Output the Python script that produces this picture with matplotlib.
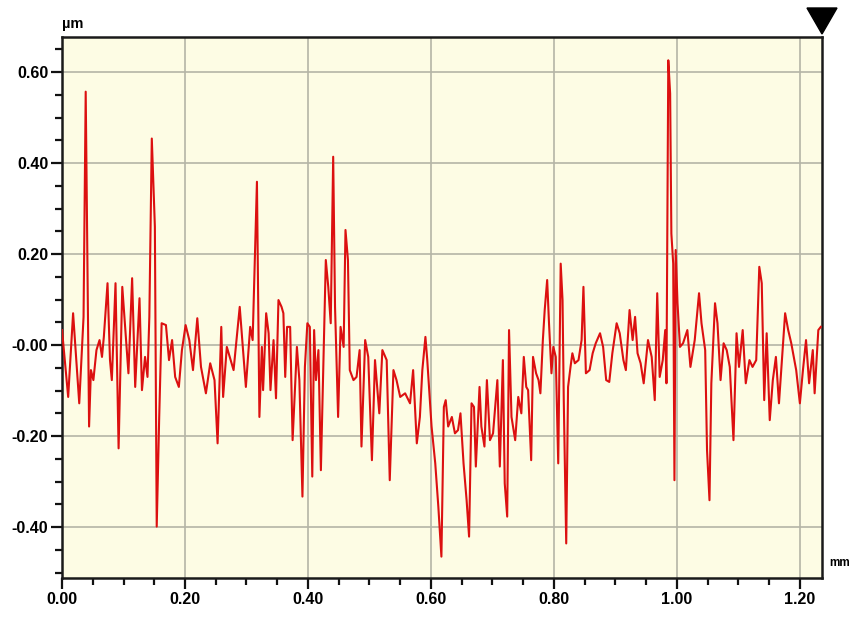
import matplotlib
matplotlib.use('Agg')
import matplotlib.pyplot as plt
from matplotlib.patches import Polygon
import numpy as np

# profile data (x in mm, height in um)
x_mm = [0.000, 0.010, 0.018, 0.028, 0.035, 0.0385, 0.044, 0.047, 0.051, 0.056,
        0.061, 0.065, 0.068, 0.074, 0.078, 0.081, 0.087, 0.092, 0.098, 0.108,
        0.114, 0.119, 0.126, 0.130, 0.135, 0.139, 0.142, 0.146, 0.151, 0.154,
        0.158, 0.162, 0.169, 0.174, 0.179, 0.184, 0.190, 0.195, 0.201, 0.207,
        0.213, 0.220, 0.226, 0.234, 0.241, 0.248, 0.253, 0.259, 0.262, 0.268,
        0.279, 0.289, 0.299, 0.306, 0.310, 0.313, 0.317, 0.321,
        0.325, 0.327, 0.332, 0.336, 0.339, 0.344, 0.348, 0.352, 0.357, 0.360,
        0.363, 0.366, 0.371, 0.375, 0.382, 0.386, 0.391, 0.395, 0.399, 0.403,
        0.407, 0.410, 0.413, 0.417, 0.421, 0.425, 0.429, 0.433, 0.437, 0.441,
        0.444, 0.449, 0.453, 0.458, 0.461, 0.465, 0.468, 0.474, 0.479, 0.484,
        0.487, 0.493, 0.498, 0.504, 0.509, 0.516, 0.521, 0.528, 0.533, 0.539,
        0.544, 0.550, 0.558, 0.566, 0.571, 0.577, 0.582, 0.586, 0.591, 0.594,
        0.601, 0.607, 0.612,
        0.617, 0.621, 0.624, 0.628, 0.634, 0.639, 0.644, 0.648, 0.653, 0.658,
        0.662, 0.666, 0.670, 0.673, 0.679, 0.682, 0.687, 0.691, 0.696, 0.701,
        0.708, 0.712, 0.717, 0.720, 0.724, 0.727, 0.731, 0.737, 0.742, 0.747,
        0.751, 0.755, 0.758, 0.763, 0.766, 0.771, 0.775, 0.778, 0.782, 0.785,
        0.789, 0.792, 0.796, 0.799, 0.803, 0.807, 0.811, 0.814, 0.816, 0.820,
        0.823, 0.827, 0.830, 0.834, 0.840, 0.845, 0.848, 0.852, 0.858, 0.863,
        0.868, 0.875, 0.880, 0.885, 0.890, 0.895, 0.902, 0.907,
        0.913, 0.917, 0.923, 0.928, 0.932, 0.936, 0.941, 0.946, 0.953, 0.959,
        0.964, 0.968, 0.972, 0.977, 0.981, 0.983, 0.986, 0.989, 0.991, 0.994,
        0.996, 0.998, 1.001, 1.005, 1.010, 1.017, 1.022, 1.029, 1.036, 1.040,
        1.046, 1.049, 1.053, 1.056, 1.062, 1.066, 1.071, 1.076, 1.081, 1.086,
        1.092, 1.097, 1.101, 1.107, 1.112, 1.118, 1.123, 1.129, 1.134, 1.138,
        1.142, 1.146, 1.151, 1.156, 1.161, 1.166, 1.172, 1.176, 1.181, 1.186,
        1.194, 1.200, 1.205, 1.210, 1.215, 1.221, 1.224, 1.230, 1.234]

h_um = [0.033, -0.114, 0.070, -0.128, 0.062, 0.557, -0.179, -0.055, -0.077, -0.011,
        0.011, -0.026, 0.018, 0.136, -0.033, -0.077, 0.136, -0.227, 0.128, -0.062,
        0.147, -0.092, 0.103, -0.099, -0.026, -0.070, 0.062, 0.454, 0.260, -0.399,
        -0.161, 0.048, 0.044, -0.033, 0.011, -0.070, -0.092, -0.011, 0.044, 0.011,
        -0.055, 0.059, -0.048, -0.106, -0.040, -0.077, -0.216, 0.040, -0.114, -0.004,
        -0.055, 0.084, -0.092, 0.040, 0.011, 0.158, 0.359, -0.158,
        -0.004, -0.099, 0.070, 0.026, -0.099, 0.011, -0.117, 0.099, 0.084, 0.070,
        -0.070, 0.040, 0.040, -0.209, -0.004, -0.077, -0.333, -0.048, 0.048, 0.040,
        -0.289, 0.033, -0.077, -0.011, -0.275, -0.048, 0.187, 0.128, 0.048, 0.414,
        0.084, -0.158, 0.040, -0.004, 0.253, 0.187, -0.055, -0.077, -0.070, -0.011,
        -0.223, 0.011, -0.026, -0.253, -0.033, -0.150, -0.011, -0.033, -0.297, -0.055,
        -0.077, -0.114, -0.106, -0.128, -0.055, -0.216, -0.158, -0.055, 0.018, -0.033,
        -0.179, -0.260, -0.355,
        -0.465, -0.136, -0.121, -0.179, -0.158, -0.194, -0.187, -0.150, -0.260, -0.341,
        -0.421, -0.128, -0.136, -0.267, -0.092, -0.179, -0.223, -0.077, -0.209, -0.194,
        -0.077, -0.267, -0.033, -0.304, -0.377, 0.033, -0.158, -0.209, -0.114, -0.150,
        -0.026, -0.092, -0.099, -0.253, -0.026, -0.062, -0.077, -0.106, 0.011, 0.077,
        0.143, 0.048, -0.062, -0.004, -0.026, -0.260, 0.179, 0.099, -0.121, -0.436,
        -0.092, -0.048, -0.018, -0.040, -0.033, 0.011, 0.128, -0.062, -0.055, -0.018,
        0.004, 0.026, -0.004, -0.077, -0.081, -0.018, 0.048, 0.026,
        -0.033, -0.055, 0.077, 0.011, 0.062, -0.018, -0.040, -0.084, 0.011, -0.026,
        -0.121, 0.114, -0.070, -0.033, 0.033, -0.084, 0.626, 0.553, 0.245, 0.179,
        -0.297, 0.209, 0.092, -0.004, 0.004, 0.033, -0.048, 0.011, 0.114, 0.048,
        -0.011, -0.231, -0.341, -0.084, 0.092, 0.048, -0.077, 0.004, -0.011, -0.048,
        -0.209, 0.026, -0.048, 0.033, -0.084, -0.033, -0.048, -0.033, 0.172, 0.136,
        -0.121, 0.026, -0.165, -0.077, -0.026, -0.128, -0.011, 0.070, 0.033, 0.004,
        -0.055, -0.128, -0.055, 0.011, -0.084, -0.011, -0.106, 0.033, 0.040]

x_ticks = [0.0, 0.2, 0.4, 0.6, 0.8, 1.0, 1.2]
x_labels = ['0.00', '0.20', '0.40', '0.60', '0.80', '1.00', '1.20']
y_ticks = [-0.4, -0.2, 0.0, 0.2, 0.4, 0.6]
y_labels = ['-0.40', '-0.20', '-0.00', '0.20', '0.40', '0.60']

tick_font = ['Liberation Sans', 'DejaVu Sans']

fig = plt.figure(figsize=(8.52, 6.18), dpi=100)
ax = fig.add_axes([0.0728, 0.0647, 0.892, 0.8753])
ax.set_facecolor('#fdfce4')

ax.plot(x_mm, h_um, color='#dc1010', lw=1.5, zorder=3)

ax.set_xlim(0, 1.236)
ax.set_ylim(-0.512, 0.677)

ax.set_xticks(x_ticks)
ax.set_xticklabels(x_labels)
ax.set_yticks(y_ticks)
ax.set_yticklabels(y_labels)
ax.set_xticks(np.arange(0.05, 1.236, 0.05), minor=True)
ax.set_yticks(np.arange(-0.5, 0.66, 0.05), minor=True)

for lab in ax.get_xticklabels() + ax.get_yticklabels():
    lab.set_family(tick_font)
    lab.set_fontweight('bold')
    lab.set_fontsize(11.5)

ax.tick_params(which='major', direction='out', length=8, width=1.6, color='#111111', pad=2)
ax.tick_params(which='minor', direction='out', length=5, width=1.6, color='#111111')

ax.grid(True, which='major', color='#b4b4a6', lw=1.2, zorder=0)
for s in ax.spines.values():
    s.set_linewidth(1.8)
    s.set_color('#1a1a1a')

# unit labels
ax.text(0.0, 1.012, 'µm', transform=ax.transAxes, ha='left', va='bottom',
        fontsize=10.5, fontweight='bold', family=tick_font)
fig.text(829 / 852, 1 - 563 / 618, 'mm', ha='left', va='center',
         fontsize=8.5, fontweight='bold', family=tick_font)

# marker triangle at the top right
tri = Polygon([(807 / 852, 1 - 8 / 618), (837 / 852, 1 - 8 / 618), (822 / 852, 1 - 34 / 618)],
              closed=True, color='black', transform=fig.transFigure, clip_on=False)
fig.patches.append(tri)

fig.savefig('out.png', dpi=100, facecolor='white')
